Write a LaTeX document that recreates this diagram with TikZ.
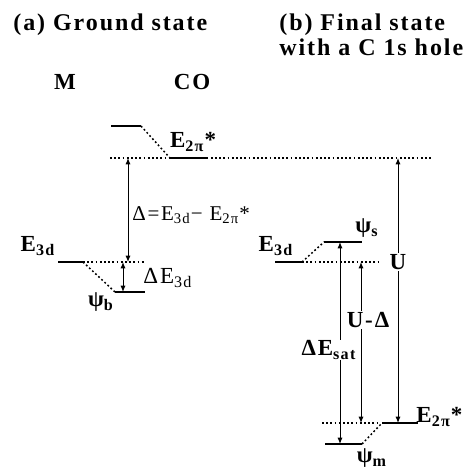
\documentclass[tikz,border=0pt]{standalone}
\usepackage{fontspec}
\setmainfont{Liberation Serif}[LetterSpace=8]
\usetikzlibrary{arrows.meta}
\tikzset{
  lvl/.style={line width=1.3pt},
  guide/.style={line width=0.75pt,dash pattern=on 0.9pt off 1.2pt},
  span/.style={<->,line width=0.5pt},
  lab/.style={inner sep=0.5pt,font=\fontsize{10.5}{12}\selectfont},
  blab/.style={inner sep=0.5pt,font=\fontsize{11.5}{13}\selectfont\bfseries},
  title/.style={inner sep=0.5pt,anchor=west,font=\fontsize{12}{14}\selectfont\bfseries},
}
\begin{document}
\begin{tikzpicture}[x=0.5pt,y=-0.5pt,>={Latex[length=3.2pt,width=2.6pt]}]
\useasboundingbox (0,0) rectangle (470,468);
\node[title] (ta) at (12,25) {(a) Ground state};
\node[title] (tb) at (278,25) {(b) Final state};
\node[title] (tc) at (278,47) {with a C 1s hole};
\node[blab] (m) at (65,82) {M};
\node[blab] (co) at (192,82) {CO};

\coordinate (mt1) at (111,126);
\coordinate (mt2) at (141,126);
\coordinate (pi1) at (170,158);
\coordinate (pi2) at (207,158);
\coordinate (top1) at (110,158);
\coordinate (top2) at (433,158);
\draw[lvl] (mt1) -- (mt2);
\draw[guide] (mt2) -- (pi1);
\draw[guide] (top1) -- (top2);
\draw[lvl] (pi1) -- (pi2);
\node[blab] (epi) at (193,142) {E\textsubscript{2π}*};

\coordinate (da) at (128,158);
\coordinate (db) at (128,262);
\draw[span] (da) -- (db);
\node[lab,anchor=west] (delta) at (131,215) {Δ=E\textsubscript{3d}− E\textsubscript{2π}*};

\coordinate (e1) at (58,262);
\coordinate (e2) at (83,262);
\coordinate (e3) at (145,262);
\coordinate (b1) at (115,292);
\coordinate (b2) at (145,292);
\draw[lvl] (e1) -- (e2);
\draw[guide] (e2) -- (e3);
\draw[guide] (e2) -- (b1);
\draw[lvl] (b1) -- (b2);
\draw[span] (123,262) coordinate (de1) -- (123,292) coordinate (de2);
\node[blab] (e3dl) at (38,246) {E\textsubscript{3d}};
\node[lab,anchor=west,font=\fontsize{11.5}{13}\selectfont] (de) at (142,278) {ΔE\textsubscript{3d}};
\node[blab] (psib) at (101,302) {ψ\textsubscript{b}};

\coordinate (f1) at (275,262);
\coordinate (f2) at (302,262);
\coordinate (f3) at (378,262);
\coordinate (s1) at (324,242);
\coordinate (s2) at (362,242);
\draw[lvl] (f1) -- (f2);
\draw[guide] (f2) -- (s1);
\draw[guide] (f2) -- (f3);
\draw[lvl] (s1) -- (s2);
\node[blab] (e3dr) at (276,246) {E\textsubscript{3d}};
\node[blab] (psis) at (367,228) {ψ\textsubscript{s}};

\coordinate (g1) at (322,423);
\coordinate (g2) at (380,423);
\coordinate (q1) at (382,423);
\coordinate (q2) at (418,423);
\coordinate (n1) at (325,444);
\coordinate (n2) at (362,444);
\draw[guide] (g1) -- (g2);
\draw[guide] (n2) -- (q1);
\draw[lvl] (q1) -- (q2);
\draw[lvl] (n1) -- (n2);
\node[blab,anchor=west] (epib) at (415,417) {E\textsubscript{2π}*};
\node[blab] (psim) at (372,458) {ψ\textsubscript{m}};

\draw[span] (340,242) coordinate (ua) -- (340,444) coordinate (ub);
\draw[span] (361,262) coordinate (va) -- (361,423) coordinate (vb);
\draw[span] (398,158) coordinate (wa) -- (398,423) coordinate (wb);
\node[blab,fill=white] (u) at (398,262) {U};
\node[blab,fill=white] (ud) at (368,320) {U-Δ};
\node[blab,fill=white] (esat) at (329,350) {ΔE\textsubscript{sat}};
\end{tikzpicture}
\end{document}
